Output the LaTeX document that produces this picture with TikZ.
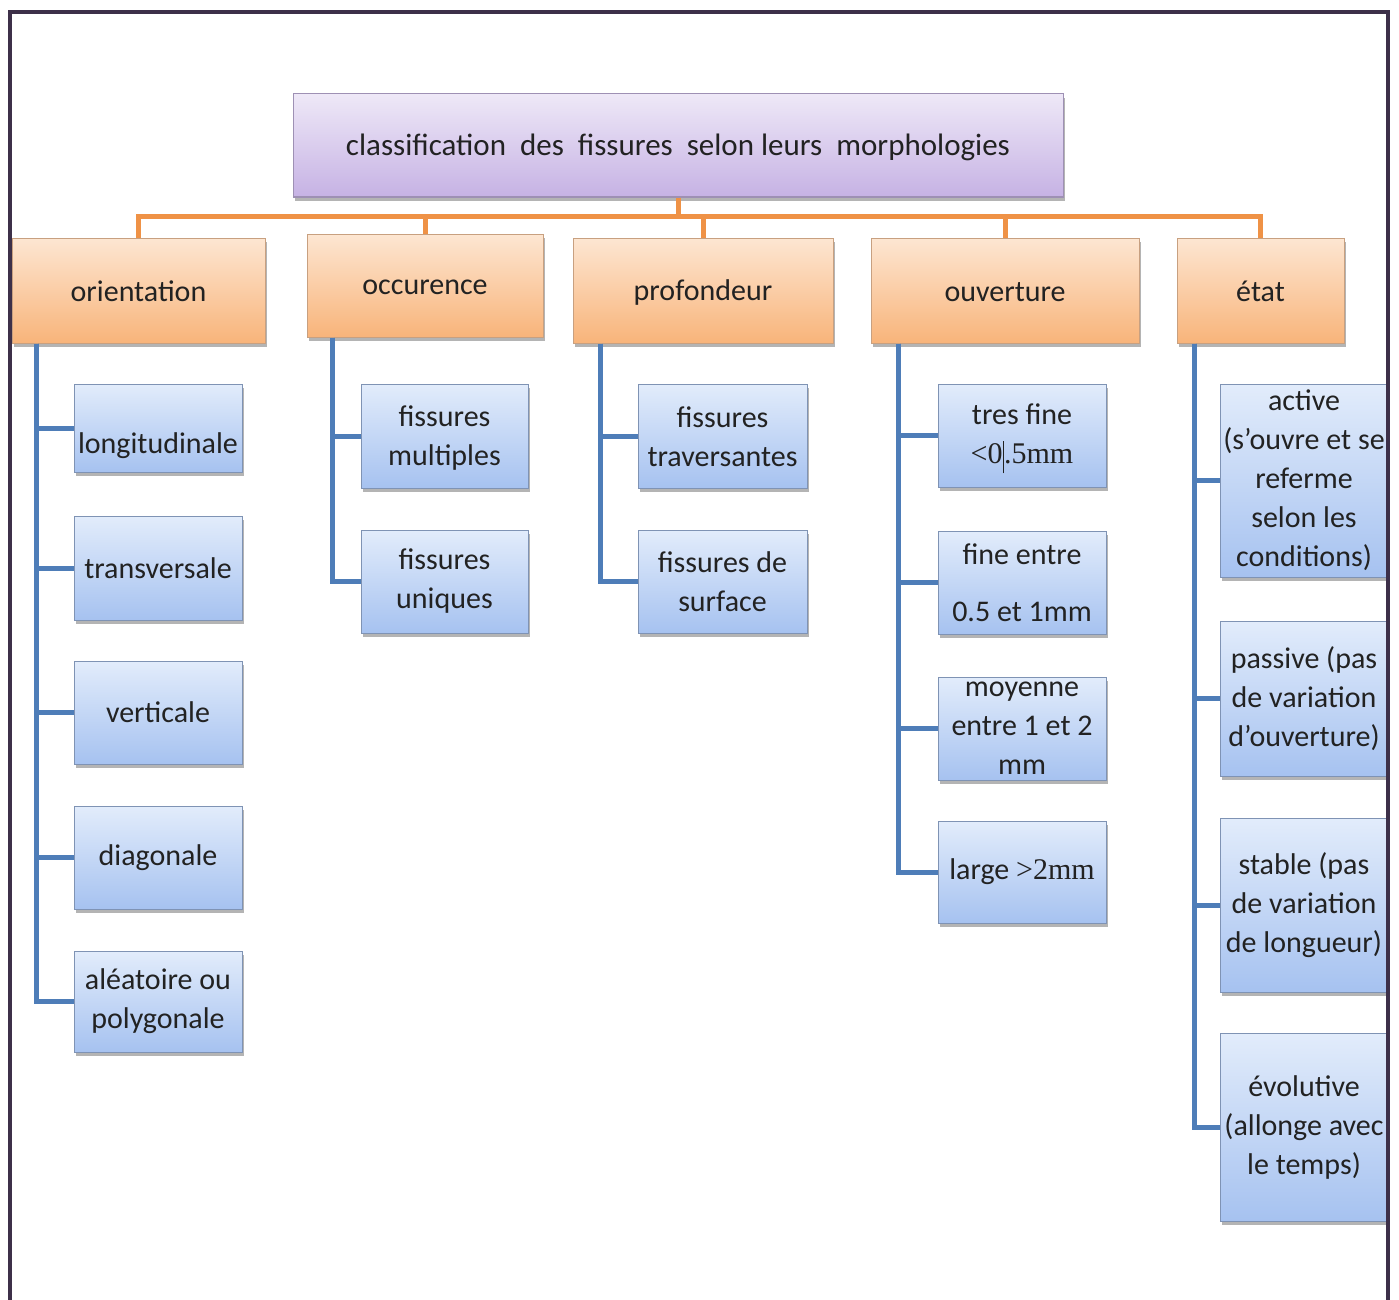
\documentclass[tikz,border=0pt]{standalone}
\usepackage{fontspec}
\setmainfont{Carlito}
\newfontfamily\tnr{Liberation Serif}
\usetikzlibrary{shadows}
\definecolor{tbtop}{HTML}{EEE8F7}
\definecolor{tbbot}{HTML}{C6B2E4}
\definecolor{tbdraw}{HTML}{9E90B4}
\definecolor{catop}{HTML}{FDE6D2}
\definecolor{cabot}{HTML}{F8B47A}
\definecolor{cadraw}{HTML}{C8A080}
\definecolor{letop}{HTML}{E2ECFB}
\definecolor{lebot}{HTML}{A6C2F0}
\definecolor{ledraw}{HTML}{7F93B4}
\definecolor{bluel}{HTML}{4E7DB8}
\definecolor{oranl}{HTML}{EF9246}
\definecolor{framec}{HTML}{3D3049}
\definecolor{txt}{HTML}{222222}
\begin{document}
\begin{tikzpicture}[x=1pt,y=-1pt,
  base/.style={draw, line width=1pt, inner sep=0pt,
    drop shadow={shadow xshift=2pt,shadow yshift=-4pt,opacity=0.45,fill=black!65}},
  topbox/.style={base, draw=tbdraw, top color=tbtop, bottom color=tbbot},
  cat/.style={base, draw=cadraw, top color=catop, bottom color=cabot},
  leaf/.style={base, draw=ledraw, top color=letop, bottom color=lebot},
  lbl/.style={font=\fontsize{30}{39}\selectfont, text=txt, align=center, inner sep=0pt},
  oline/.style={draw=oranl, line width=5pt},
  bline/.style={draw=bluel, line width=5pt},
  frameline/.style={draw=framec, line width=4pt},
]
\fill[white] (0,0) rectangle (1399,1300);
\useasboundingbox (0,0) rectangle (1399,1300);

% top
\node[topbox, minimum width=770, minimum height=103,
  label={[lbl, font=\fontsize{31}{39}\selectfont, yshift=-2pt]center:classification~ des~ fissures~ selon leurs~ morphologies}] (top) at (678,145.5) {};

% categories
\node[cat, minimum width=253, minimum height=105, label={[lbl,yshift=-1pt]center:orientation}] (ori) at (138.5,290.5) {};
\node[cat, minimum width=236, minimum height=103, label={[lbl,yshift=-2pt]center:occurence}] (occ) at (425,285.5) {};
\node[cat, minimum width=260, minimum height=105, label={[lbl,yshift=-2pt]center:profondeur}] (pro) at (703,290.5) {};
\node[cat, minimum width=268, minimum height=105, label={[lbl,yshift=-2pt]center:ouverture}] (ouv) at (1005,290.5) {};
\node[cat, minimum width=167, minimum height=105, label={[lbl,yshift=-1pt]center:état}] (eta) at (1260.5,290.5) {};

% orange connectors
\foreach \c in {ori,occ,pro,ouv,eta}
  \draw[oline] (top.south) -- ++(0,19) -| (\c.north);

% orientation leaves
\node[leaf, minimum width=168, minimum height=88, label={[lbl,yshift=-18pt]center:longitudinale}] (lon) at (158,428) {};
\node[leaf, minimum width=168, minimum height=104, label={[lbl]center:transversale}] (tra) at (158,568) {};
\node[leaf, minimum width=168, minimum height=103, label={[lbl]center:verticale}] (ver) at (158,712.5) {};
\node[leaf, minimum width=168, minimum height=103, label={[lbl]center:diagonale}] (dia) at (158,857.5) {};
\node[leaf, minimum width=168, minimum height=101, label={[lbl]center:aléatoire ou\\polygonale}] (ale) at (158,1001.5) {};

% occurence leaves
\node[leaf, minimum width=167, minimum height=104, label={[lbl,yshift=-2pt]center:fissures\\multiples}] (mul) at (444.5,436) {};
\node[leaf, minimum width=167, minimum height=103, label={[lbl]center:fissures\\uniques}] (uni) at (444.5,581.5) {};

% profondeur leaves
\node[leaf, minimum width=169, minimum height=104, label={[lbl,yshift=-1pt]center:fissures\\traversantes}] (trv) at (722.5,436) {};
\node[leaf, minimum width=169, minimum height=103, label={[lbl]center:fissures de\\surface}] (sur) at (722.5,581.5) {};

% ouverture leaves
\node[leaf, minimum width=168, minimum height=103,
  label={[lbl,yshift=-3pt]center:tres fine\\{\tnr <0}\rule[-10pt]{1.5pt}{32pt}{\tnr .5mm}}] (tfi) at (1022,435.5) {};
\node[leaf, minimum width=168, minimum height=103, label={[lbl]center:fine entre\\[18pt]0.5 et 1mm}] (fen) at (1022,582.5) {};
\node[leaf, minimum width=168, minimum height=103, label={[lbl]center:moyenne\\entre 1 et 2\\mm}] (moy) at (1022,728.5) {};
\node[leaf, minimum width=168, minimum height=102, label={[lbl]center:large {\tnr >2mm}}] (lar) at (1022,872) {};

% etat leaves
\node[leaf, minimum width=168, minimum height=193,
  label={[lbl]center:active\\(s'ouvre et se\\referme\\selon les\\conditions)}] (act) at (1304,480.5) {};
\node[leaf, minimum width=168, minimum height=155,
  label={[lbl]center:passive (pas\\de variation\\d'ouverture)}] (pas) at (1304,698.5) {};
\node[leaf, minimum width=168, minimum height=174,
  label={[lbl]center:stable (pas\\de variation\\de longueur)}] (sta) at (1304,905) {};
\node[leaf, minimum width=168, minimum height=188,
  label={[lbl]center:évolutive\\(allonge avec\\le temps)}] (evo) at (1304,1127) {};

% blue connectors
\foreach \c in {lon,tra,ver,dia,ale}
  \draw[bline] ([xshift=25pt]ori.south west) |- (\c.west);
\foreach \c in {mul,uni}
  \draw[bline] ([xshift=26pt]occ.south west) |- (\c.west);
\foreach \c in {trv,sur}
  \draw[bline] ([xshift=28pt]pro.south west) |- (\c.west);
\foreach \c in {tfi,fen,moy,lar}
  \draw[bline] ([xshift=28pt]ouv.south west) |- (\c.west);
\foreach \c in {act,pas,sta,evo}
  \draw[bline] ([xshift=18pt]eta.south west) |- (\c.west);

% frame
\fill[white] (1390,0) rectangle (1399,1300);
\draw[frameline] (10,1300) -- (10,12) -- (1388,12) -- (1388,1300);
\end{tikzpicture}
\end{document}
